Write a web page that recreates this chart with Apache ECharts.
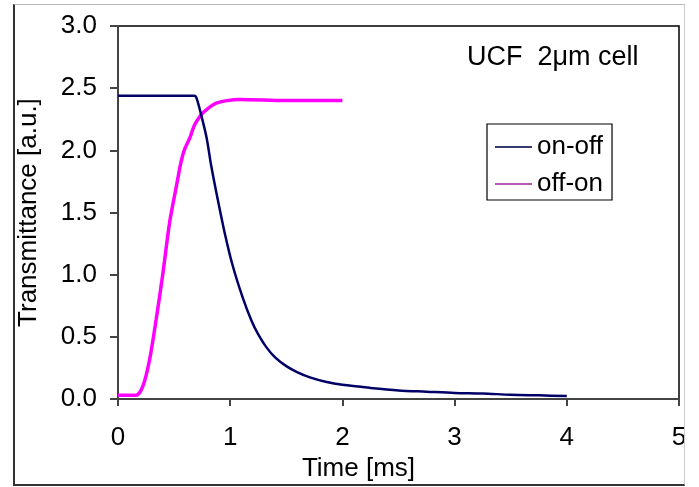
<!DOCTYPE html>
<html>
<head>
<meta charset="utf-8">
<script src="https://cdn.jsdelivr.net/npm/echarts@6/dist/echarts.min.js"></script>
<style>
  html, body { margin: 0; padding: 0; background: #fff; }
  #chart { width: 699px; height: 487px; position: absolute; left: 0; top: 0; }
  #frame { position: absolute; left: 13px; top: 4px; width: 669px; height: 479px;
           border-left: 2px solid #333; border-bottom: 2px solid #333;
           border-top: 1px solid #bbb; border-right: 1px solid #ccc; pointer-events: none; }
</style>
</head>
<body>
<div id="chart"></div>
<div id="frame"></div>
<script>
// on-off (navy) curve: time [ms] and transmittance [a.u.]
const onOffT = [0, 0.2, 0.4, 0.6, 0.68, 0.70, 0.74, 0.79, 0.83, 0.89, 0.95, 1.02, 1.11, 1.19, 1.25, 1.32, 1.40, 1.50, 1.60, 1.71, 1.85, 2.0, 2.25, 2.5, 2.75, 3.0, 3.25, 3.5, 3.75, 4.0];
const onOffV = [2.44, 2.44, 2.44, 2.44, 2.44, 2.42, 2.29, 2.10, 1.88, 1.60, 1.34, 1.08, 0.82, 0.63, 0.52, 0.42, 0.335, 0.265, 0.215, 0.175, 0.14, 0.115, 0.09, 0.07, 0.06, 0.05, 0.045, 0.035, 0.03, 0.025];
// off-on (magenta) curve
const offOnT = [0, 0.10, 0.16, 0.22, 0.28, 0.34, 0.40, 0.46, 0.52, 0.56, 0.59, 0.64, 0.68, 0.72, 0.755, 0.82, 0.875, 0.97, 1.08, 1.5, 2.0];
const offOnV = [0.03, 0.03, 0.03, 0.10, 0.31, 0.64, 1.01, 1.42, 1.71, 1.90, 2.00, 2.10, 2.20, 2.26, 2.30, 2.35, 2.38, 2.40, 2.41, 2.40, 2.40];

const xTicks = [0, 1, 2, 3, 4, 5];
const yTicks = [0, 0.5, 1.0, 1.5, 2.0, 2.5, 3.0];

const FONT = 'Liberation Sans, Arial, sans-serif';
const zip = (a, b) => a.map((v, i) => [v, b[i]]);

const chart = echarts.init(document.getElementById('chart'), null, { renderer: 'canvas' });
chart.setOption({
  backgroundColor: 'transparent',
  animation: false,
  textStyle: { fontFamily: FONT },
  title: {
    text: 'UCF  2\u03bcm cell',
    left: 467, top: 44, padding: 0,
    textStyle: { fontFamily: FONT, fontSize: 27, fontWeight: 'normal', color: '#000' }
  },
  legend: {
    orient: 'vertical',
    left: 487, top: 124,
    padding: [10, 9, 3, 8],
    itemGap: 11,
    itemWidth: 37, itemHeight: 14,
    borderColor: '#000', borderWidth: 1.2,
    backgroundColor: '#fff',
    textStyle: { fontFamily: FONT, fontSize: 26, color: '#000' },
    data: [
      { name: 'on-off', icon: 'path://M0,0 L33,0 L33,1.6 L0,1.6 Z', itemStyle: { color: '#3a3a72' } },
      { name: 'off-on', icon: 'path://M0,0 L33,0 L33,1.6 L0,1.6 Z', itemStyle: { color: '#b45ab4' } }
    ]
  },
  grid: {
    left: 118, right: 20, top: 26, bottom: 87,
    show: true, borderColor: '#000', borderWidth: 1.5, backgroundColor: '#fff'
  },
  xAxis: {
    type: 'value', min: xTicks[0], max: xTicks[xTicks.length - 1], interval: 1,
    name: 'Time [ms]', nameLocation: 'middle', nameGap: 50,
    nameTextStyle: { fontFamily: FONT, fontSize: 26, color: '#000', padding: [0, 80, 0, 0] },
    axisLine: { lineStyle: { color: '#444', width: 2 } },
    axisTick: { show: true, length: 7, lineStyle: { color: '#444', width: 2 } },
    axisLabel: { fontFamily: FONT, fontSize: 26, color: '#000', margin: 26 },
    splitLine: { show: false }
  },
  yAxis: {
    type: 'value', min: yTicks[0], max: yTicks[yTicks.length - 1], interval: 0.5,
    name: 'Transmittance [a.u.]', nameLocation: 'middle', nameGap: 76,
    nameTextStyle: { fontFamily: FONT, fontSize: 26, color: '#000' },
    axisLine: { show: true, lineStyle: { color: '#444', width: 2 } },
    axisTick: { show: true, length: 8, lineStyle: { color: '#444', width: 2 } },
    axisLabel: { fontFamily: FONT, fontSize: 26, color: '#000', margin: 21, formatter: v => v.toFixed(1) },
    splitLine: { show: false }
  },
  series: [
    {
      name: 'off-on', type: 'line', data: zip(offOnT, offOnV),
      showSymbol: false, smooth: 0.3, color: '#ff00ff',
      lineStyle: { color: '#ff00ff', width: 3.5 }, z: 2
    },
    {
      name: 'on-off', type: 'line', data: zip(onOffT, onOffV),
      showSymbol: false, smooth: 0.3, color: '#000066',
      lineStyle: { color: '#000066', width: 2.5 }, z: 3
    }
  ]
});
</script>
</body>
</html>
